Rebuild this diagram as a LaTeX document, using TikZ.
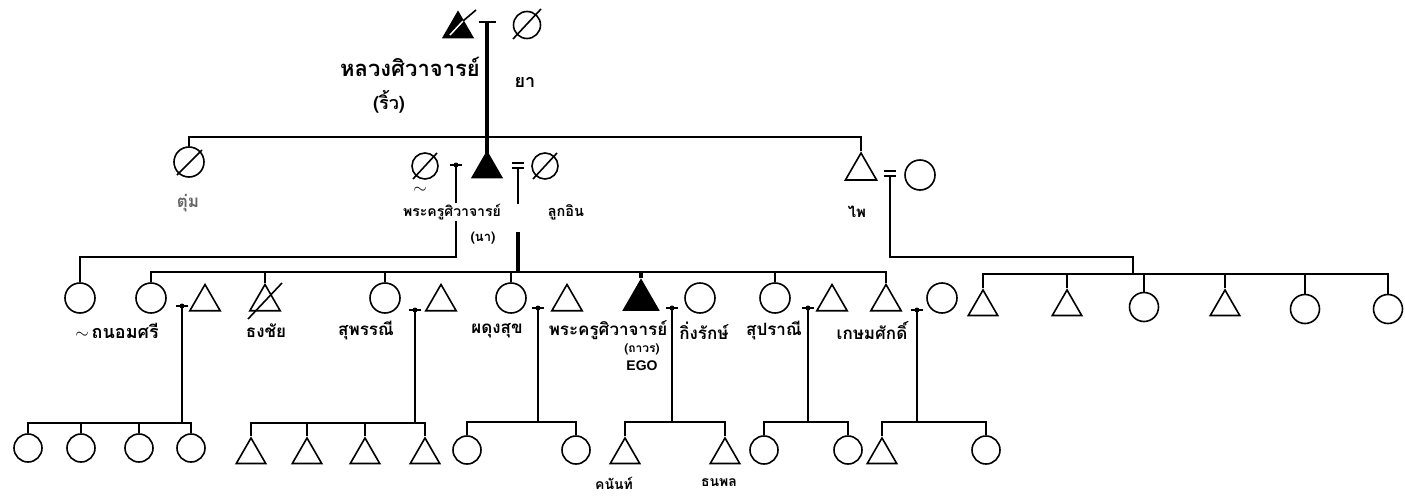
\documentclass[tikz,border=0pt]{standalone}
\usepackage{fontspec}
\setmainfont{Liberation Sans}
\newfontfamily\thaifont[Script=Thai]{Loma}
\usetikzlibrary{shapes.geometric}

\tikzset{
  fem/.style={circle,draw,line width=1.6pt,minimum size=30pt,inner sep=0pt},
  mal/.style={regular polygon,regular polygon sides=3,draw,line width=1.6pt,
    minimum size=35pt,inner sep=0pt},
  kin/.style={line width=1.6pt},
  heavy/.style={line width=4.5pt},
  thname/.style={font=\thaifont\bfseries\fontsize{17}{19}\selectfont,inner sep=1pt},
  thsmall/.style={font=\thaifont\bfseries\fontsize{13}{15}\selectfont,inner sep=1pt},
}

\begin{document}
\begin{tikzpicture}[x=1pt,y=-1pt]
  \useasboundingbox (0,0) rectangle (1405,498);

  % ---- Generation 1: the founder and his wife ---------------
  \node[mal,fill=black,minimum size=34pt] (luang) at (458,29) {};
  \draw[white,line width=1.5pt] (450,35) -- (463,21);
  \draw[line width=1.6pt] (463,21) -- (476,10);
  \node[fem,minimum size=27pt] (ya) at (527,25) {};
  \draw[kin] (513,39) -- (541,9);
  % Marriage
  \coordinate (m0) at (487,22);
  \draw[kin] (479,22) -- (496,22);
  % Labels
  \node[thname,font=\thaifont\bfseries\fontsize{22}{24}\selectfont] (luangtx) at (410,67) {หลวงศิวาจารย์};
  \node[thname,font=\thaifont\bfseries\fontsize{18}{20}\selectfont] (riwtx) at (389,102) {(ริ้ว)};
  \node[thname,font=\thaifont\bfseries\fontsize{18}{20}\selectfont] (yatx) at (525,82) {ยา};

  % ---- Generation 2 -----------------------------------------
  \node[fem] (tum) at (189,162) {};
  \draw[kin] (177,175) -- (202,150);
  \node[mal,fill=black,minimum size=34pt] (khru) at (487,169) {};
  \node[fem,minimum size=26pt] (wifeA) at (425,166) {};
  \draw[kin] (413,179) -- (437,153);
  \node[fem,minimum size=26pt] (wifeB) at (545,166) {};
  \draw[kin] (533,179) -- (557,153);
  \node[mal,minimum size=36pt] (phai) at (861,171) {};
  \node[fem] (phaiw) at (920,175) {};
  % Sibling line and descent from the founder
  \coordinate (s1) at (487,137);
  \draw[kin] (tum.north) |- (s1) -| (phai.north);
  \draw[heavy] (m0) -- (khru.center);
  % Marriages
  \coordinate (mA) at (456,165);
  \draw[kin] (450,165) -- (462,165);
  \fill (456,165) circle (2.5);
  \coordinate (mB) at (518,168);
  \draw[kin] (512,163) -- (524,163);
  \draw[kin] (512,168) -- (524,168);
  \coordinate (mP) at (890,176);
  \draw[kin] (884,171) -- (896,171);
  \draw[kin] (884,176) -- (896,176);

  % ---- Generation 3 -----------------------------------------
  \node[fem] (thanom) at (80,298) {};
  \node[fem] (sibA) at (151,298) {};
  \node[mal] (sibAh) at (205,302) {};
  \node[mal] (thong) at (265,302) {};
  \draw[kin] (248,319) -- (282,283);
  \node[fem] (suphan) at (385,298) {};
  \node[mal] (suphanh) at (441,302) {};
  \node[fem] (phadung) at (511,298) {};
  \node[mal] (phadungh) at (567,302) {};
  \node[mal,fill=black,minimum size=40pt] (ego) at (641,300) {};
  \node[fem] (king) at (700,298) {};
  \node[fem] (supra) at (775,298) {};
  \node[mal] (suprah) at (832,302) {};
  \node[mal] (kasem) at (886,302) {};
  \node[fem] (kasemw) at (942,298) {};
  % Children of the first wife
  \coordinate (jA) at (456,257);
  \draw[kin] (mA) -- (jA) -| (thanom.north);
  % Children of the second wife
  \coordinate (mBa) at (518,204);
  \coordinate (mBb) at (518,232);
  \coordinate (jB) at (518,272);
  \draw[kin] (mB) -- (mBa);
  \draw[heavy] (mBb) -- (jB);
  \draw[kin] (sibA.north) |- (jB) -| (kasem.north);
  \foreach \n in {thong,suphan,phadung,supra}
    \draw[kin] (\n.north |- jB) -- (\n.north);
  \draw[heavy] (ego.north |- jB) -- (ego.north);
  % Children of Phai
  \coordinate (jP) at (1133,257);
  \coordinate (jPb) at (1133,274);
  \draw[kin] (mP) |- (jP) -- (jPb);
  \node[mal,minimum size=34pt] (p1) at (983,307) {};
  \node[mal,minimum size=34pt] (p2) at (1067,307) {};
  \node[fem,minimum size=29pt] (p3) at (1144,307) {};
  \node[mal,minimum size=34pt] (p4) at (1225,307) {};
  \node[fem,minimum size=29pt] (p5) at (1305,309) {};
  \node[fem,minimum size=29pt] (p6) at (1388,309) {};
  \draw[kin] (p1.north) |- (jPb) -| (p6.north);
  \foreach \n in {p2,p3,p4,p5}
    \draw[kin] (\n.north |- jPb) -- (\n.north);

  % ---- Generation 3 marriages -------------------------------
  \foreach \c/\x/\y in {mC/182/306,mD/415/310,mE/538/308,mF/672/308,mG/808/308,mH/917/310}{
    \coordinate (\c) at (\x,\y);
    \draw[kin] (\x-6,\y) -- (\x+6,\y);
    \fill (\x,\y) circle (2.5);
  }
  \coordinate (jC) at (182,423);
  \coordinate (jD) at (415,423);
  \coordinate (jE) at (538,422);
  \coordinate (jF) at (672,422);
  \coordinate (jG) at (808,422);
  \coordinate (jH) at (917,422);

  % ---- Generation 4 -----------------------------------------
  \node[fem,minimum size=28pt] (a1) at (28,448) {};
  \node[fem,minimum size=28pt] (a2) at (81,448) {};
  \node[fem,minimum size=28pt] (a3) at (139,448) {};
  \node[fem,minimum size=28pt] (a4) at (191,448) {};
  \draw[kin] (mC) -- (jC);
  \draw[kin] (a1.north) |- (jC) -| (a4.north);
  \draw[kin] (a2.north |- jC) -- (a2.north);
  \draw[kin] (a3.north |- jC) -- (a3.north);

  \node[mal,minimum size=34pt] (b1) at (251,455) {};
  \node[mal,minimum size=34pt] (b2) at (307,455) {};
  \node[mal,minimum size=34pt] (b3) at (365,455) {};
  \node[mal,minimum size=34pt] (b4) at (425,455) {};
  \draw[kin] (mD) -- (jD);
  \draw[kin] (b1.north) |- (jD) -| (b4.north);
  \draw[kin] (b2.north |- jD) -- (b2.north);
  \draw[kin] (b3.north |- jD) -- (b3.north);

  \node[fem,minimum size=28pt] (c1) at (467,450) {};
  \node[fem,minimum size=28pt] (c2) at (576,450) {};
  \draw[kin] (mE) -- (jE);
  \draw[kin] (c1.north) |- (jE) -| (c2.north);

  \node[mal,minimum size=34pt] (kanan) at (625,455) {};
  \node[mal,minimum size=34pt] (thanapol) at (725,455) {};
  \draw[kin] (mF) -- (jF);
  \draw[kin] (kanan.north) |- (jF) -| (thanapol.north);

  \node[fem,minimum size=28pt] (e1) at (764,450) {};
  \node[fem,minimum size=28pt] (e2) at (848,450) {};
  \draw[kin] (mG) -- (jG);
  \draw[kin] (e1.north) |- (jG) -| (e2.north);

  \node[mal,minimum size=34pt] (f1) at (882,455) {};
  \node[fem,minimum size=28pt] (f2) at (986,450) {};
  \draw[kin] (mH) -- (jH);
  \draw[kin] (f1.north) |- (jH) -| (f2.north);

  % ---- Labels -----------------------------------------------
  \node[thname,text=black!60] (tumtx) at (188,203) {ตุ่ม};
  \node[font=\fontsize{17}{17}\selectfont] (tilA) at (420,190) {$\sim$};
  \node[thname,font=\thaifont\bfseries\fontsize{14}{16}\selectfont,fill=white] (khrutx) at (452,212) {พระครูศิวาจารย์};
  \node[thsmall,fill=white] (natx) at (483,238) {(นา)};
  \node[thname,font=\thaifont\bfseries\fontsize{14.5}{17}\selectfont] (lukintx) at (566,212) {ลูกอิน};
  \node[thname,font=\thaifont\bfseries\fontsize{15}{17}\selectfont] (phaitx) at (857,212) {ไพ};

  \node[thname,font=\thaifont\bfseries\fontsize{18}{20}\selectfont] (thanomtx) at (117,331) {{\normalfont$\sim$}\,ถนอมศรี};
  \node[thname] (thongtx) at (266,331) {ธงชัย};
  \node[thname] (suphantx) at (366,331) {สุพรรณี};
  \node[thname] (phadungtx) at (497,331) {ผดุงสุข};
  \node[thname] (egotx) at (608,330) {พระครูศิวาจารย์};
  \node[thsmall,font=\thaifont\bfseries\fontsize{12}{14}\selectfont,inner sep=0pt] (thavorntx) at (642,349) {(ถาวร)};
  \node[font=\bfseries\fontsize{14}{16}\selectfont,inner sep=0pt] (egolbl) at (642,366) {EGO};
  \node[thname] (kingtx) at (704,331) {กิ่งรักษ์};
  \node[thname] (supratx) at (774,331) {สุปราณี};
  \node[thname] (kasemtx) at (872,331) {เกษมศักดิ์};

  \node[thsmall,font=\thaifont\bfseries\fontsize{14}{16}\selectfont] (kanantx) at (614,483) {คนันท์};
  \node[thsmall,font=\thaifont\bfseries\fontsize{14}{16}\selectfont] (thanapoltx) at (719,483) {ธนพล};

\end{tikzpicture}
\end{document}
